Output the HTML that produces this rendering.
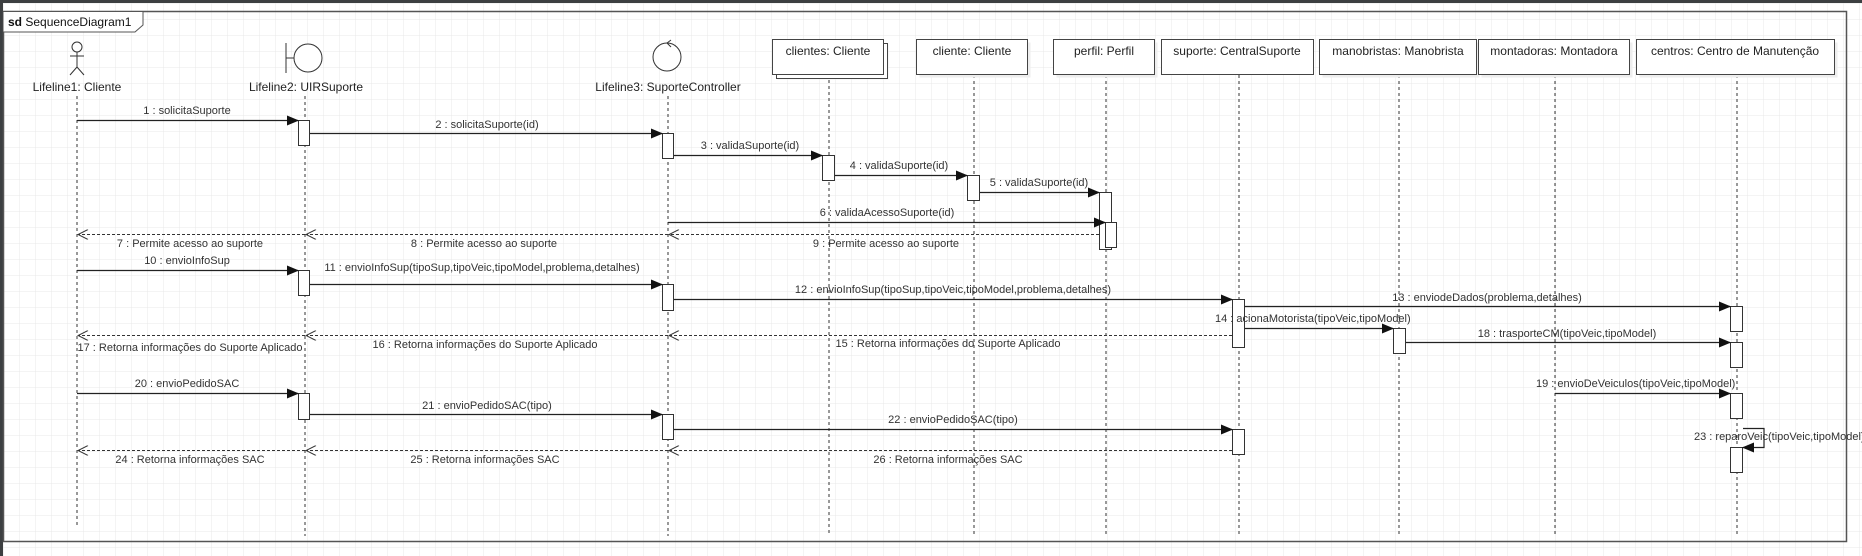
<!DOCTYPE html>
<html><head><meta charset="utf-8"><style>
html,body{margin:0;padding:0;background:#fff;}
svg{display:block;font-family:"Liberation Sans",Arial,sans-serif;}
</style></head><body>
<svg width="1862" height="556" viewBox="0 0 1862 556" xmlns="http://www.w3.org/2000/svg">
<defs>
<pattern id="g" x="4" y="4" width="16" height="16" patternUnits="userSpaceOnUse">
<path d="M16 0V16M0 16H16" stroke="#e9e9e9" stroke-width="1" fill="none"/>
</pattern>
<marker id="f" markerWidth="12" markerHeight="10" refX="11" refY="5" orient="auto" markerUnits="userSpaceOnUse"><path d="M0 0L12 5L0 10Z" fill="#111"/></marker>
<marker id="o" markerWidth="12" markerHeight="10" refX="11" refY="5" orient="auto" markerUnits="userSpaceOnUse"><path d="M1 0L11 5L1 10" fill="none" stroke="#333" stroke-width="1"/></marker>
</defs>
<rect width="1862" height="556" fill="#fff"/>
<rect width="1862" height="556" fill="url(#g)"/>
<rect x="0" y="0" width="1862" height="3" fill="#3c3f41"/>
<rect x="0" y="0" width="3" height="556" fill="#3c3f41"/>
<rect x="3.5" y="11.5" width="1843" height="530" fill="none" stroke="#555" stroke-width="1.5"/>
<path d="M3.5 11.5H143L143 25L135 32H3.5" fill="#fff" stroke="#555" stroke-width="1"/>
<text x="8" y="26" font-size="12" fill="#111"><tspan font-weight="bold">sd</tspan> SequenceDiagram1</text>

<g stroke="#333" stroke-width="1" stroke-dasharray="3,3">
<line x1="77" y1="96" x2="77" y2="527"/>
<line x1="305" y1="96" x2="305" y2="536"/>
<line x1="668" y1="96" x2="668" y2="536"/>
<line x1="829" y1="80" x2="829" y2="536"/>
<line x1="974" y1="75" x2="974" y2="536"/>
<line x1="1106" y1="75" x2="1106" y2="536"/>
<line x1="1239" y1="75" x2="1239" y2="536"/>
<line x1="1399" y1="75" x2="1399" y2="536"/>
<line x1="1555" y1="75" x2="1555" y2="536"/>
<line x1="1737" y1="75" x2="1737" y2="536"/>
</g>

<g stroke="#333" fill="none" stroke-width="1">
<circle cx="77" cy="47" r="5"/>
<path d="M77 52V67M70 56H84M77 67L70 75M77 67L84 75"/>
<path d="M286 43V73"/><path d="M286 58H294"/><circle cx="308" cy="58" r="14" fill="#fff"/>
<circle cx="667" cy="57" r="14" fill="#fff"/>
<path d="M671 40L667 43L671 47"/>
</g>
<g font-size="12" fill="#222" text-anchor="middle">
<text x="77" y="91">Lifeline1: Cliente</text>
<text x="306" y="91">Lifeline2: UIRSuporte</text>
<text x="668" y="91">Lifeline3: SuporteController</text>
</g>

<g fill="#fff" stroke="#444" stroke-width="1">
<rect x="777.5" y="44.5" width="111" height="35" fill="#f0f0f0" stroke="none"/>
<rect x="776.5" y="43.5" width="111" height="35"/>
<rect x="772.5" y="39.5" width="111" height="35"/>
<rect x="919.5" y="42.5" width="111" height="35" fill="#eee" stroke="none"/>
<rect x="916.5" y="39.5" width="111" height="35"/>
<rect x="1056.5" y="42.5" width="101" height="35" fill="#eee" stroke="none"/>
<rect x="1053.5" y="39.5" width="101" height="35"/>
<rect x="1161.5" y="39.5" width="152" height="35"/>
<rect x="1322.5" y="42.5" width="157" height="35" fill="#eee" stroke="none"/>
<rect x="1319.5" y="39.5" width="157" height="35"/>
<rect x="1481.5" y="42.5" width="151" height="35" fill="#eee" stroke="none"/>
<rect x="1478.5" y="39.5" width="151" height="35"/>
<rect x="1639.5" y="42.5" width="198" height="35" fill="#eee" stroke="none"/>
<rect x="1636.5" y="39.5" width="198" height="35"/>
</g>
<g font-size="12" fill="#222" text-anchor="middle">
<text x="828" y="55">clientes: Cliente</text>
<text x="972" y="55">cliente: Cliente</text>
<text x="1104" y="55">perfil: Perfil</text>
<text x="1237" y="55">suporte: CentralSuporte</text>
<text x="1398" y="55">manobristas: Manobrista</text>
<text x="1554" y="55">montadoras: Montadora</text>
<text x="1735" y="55">centros: Centro de Manutenção</text>
</g>

<g fill="#fff" stroke="#333" stroke-width="1">
<rect x="298.5" y="120.5" width="11" height="25"/>
<rect x="662.5" y="133.5" width="11" height="25"/>
<rect x="822.5" y="155.5" width="12" height="25"/>
<rect x="967.5" y="175.5" width="12" height="25"/>
<rect x="1099.5" y="192.5" width="12" height="57"/>
<rect x="1105.5" y="222.5" width="11" height="25"/>
<rect x="298.5" y="270.5" width="11" height="25"/>
<rect x="662.5" y="284.5" width="11" height="26"/>
<rect x="1232.5" y="299.5" width="12" height="48"/>
<rect x="1730.5" y="306.5" width="12" height="25"/>
<rect x="1393.5" y="328.5" width="12" height="25"/>
<rect x="1730.5" y="342.5" width="12" height="25"/>
<rect x="1730.5" y="393.5" width="12" height="25"/>
<rect x="298.5" y="393.5" width="11" height="26"/>
<rect x="662.5" y="414.5" width="11" height="25"/>
<rect x="1232.5" y="429.5" width="12" height="25"/>
<rect x="1730.5" y="447.5" width="12" height="25"/>
</g>

<g stroke="#222" stroke-width="1.2" fill="none" marker-end="url(#f)">
<line x1="77" y1="120.5" x2="298" y2="120.5"/>
<line x1="310" y1="133.5" x2="662" y2="133.5"/>
<line x1="674" y1="155.5" x2="822" y2="155.5"/>
<line x1="835" y1="175.5" x2="967" y2="175.5"/>
<line x1="980" y1="192.5" x2="1099" y2="192.5"/>
<line x1="668" y1="222.5" x2="1105" y2="222.5"/>
<line x1="77" y1="270.5" x2="298" y2="270.5"/>
<line x1="310" y1="284.5" x2="662" y2="284.5"/>
<line x1="674" y1="299.5" x2="1232" y2="299.5"/>
<line x1="1245" y1="306.5" x2="1730" y2="306.5"/>
<line x1="1245" y1="328.5" x2="1393" y2="328.5"/>
<line x1="1406" y1="342.5" x2="1730" y2="342.5"/>
<line x1="1555" y1="393.5" x2="1730" y2="393.5"/>
<line x1="77" y1="393.5" x2="298" y2="393.5"/>
<line x1="310" y1="414.5" x2="662" y2="414.5"/>
<line x1="674" y1="429.5" x2="1232" y2="429.5"/>
<path d="M1743 428.5H1764V447.5H1743"/>
</g>

<g stroke="#333" stroke-width="1" stroke-dasharray="3,2" fill="none" marker-end="url(#o)">
<line x1="1099" y1="234.5" x2="669" y2="234.5"/>
<line x1="668" y1="234.5" x2="306" y2="234.5"/>
<line x1="305" y1="234.5" x2="78" y2="234.5"/>
<line x1="1232" y1="335.5" x2="669" y2="335.5"/>
<line x1="668" y1="335.5" x2="306" y2="335.5"/>
<line x1="305" y1="335.5" x2="78" y2="335.5"/>
<line x1="1232" y1="450.5" x2="669" y2="450.5"/>
<line x1="668" y1="450.5" x2="306" y2="450.5"/>
<line x1="305" y1="450.5" x2="78" y2="450.5"/>
</g>

<g font-size="11" fill="#333" text-anchor="middle">
<text x="187" y="114">1 : solicitaSuporte</text>
<text x="487" y="128">2 : solicitaSuporte(id)</text>
<text x="750" y="149">3 : validaSuporte(id)</text>
<text x="899" y="169">4 : validaSuporte(id)</text>
<text x="1039" y="186">5 : validaSuporte(id)</text>
<text x="887" y="216">6 : validaAcessoSuporte(id)</text>
<text x="190" y="247">7 : Permite acesso ao suporte</text>
<text x="484" y="247">8 : Permite acesso ao suporte</text>
<text x="886" y="247">9 : Permite acesso ao suporte</text>
<text x="187" y="264">10 : envioInfoSup</text>
<text x="482" y="271">11 : envioInfoSup(tipoSup,tipoVeic,tipoModel,problema,detalhes)</text>
<text x="953" y="293">12 : envioInfoSup(tipoSup,tipoVeic,tipoModel,problema,detalhes)</text>
<text x="1487" y="301">13 : enviodeDados(problema,detalhes)</text>
<text x="948" y="347">15 : Retorna informações do Suporte Aplicado</text>
<text x="485" y="348">16 : Retorna informações do Suporte Aplicado</text>
<text x="190" y="351">17 : Retorna informações do Suporte Aplicado</text>
<text x="1567" y="337">18 : trasporteCM(tipoVeic,tipoModel)</text>
<text x="187" y="387">20 : envioPedidoSAC</text>
<text x="487" y="409">21 : envioPedidoSAC(tipo)</text>
<text x="953" y="423">22 : envioPedidoSAC(tipo)</text>
<text x="190" y="463">24 : Retorna informações SAC</text>
<text x="485" y="463">25 : Retorna informações SAC</text>
<text x="948" y="463">26 : Retorna informações SAC</text>
</g>
<g font-size="11" fill="#333">
<text x="1215" y="322">14 : acionaMotorista(tipoVeic,tipoModel)</text>
<text x="1536" y="387">19 : envioDeVeiculos(tipoVeic,tipoModel)</text>
<text x="1694" y="440">23 : reparoVeic(tipoVeic,tipoModel)</text>
</g>
</svg>
</body></html>
